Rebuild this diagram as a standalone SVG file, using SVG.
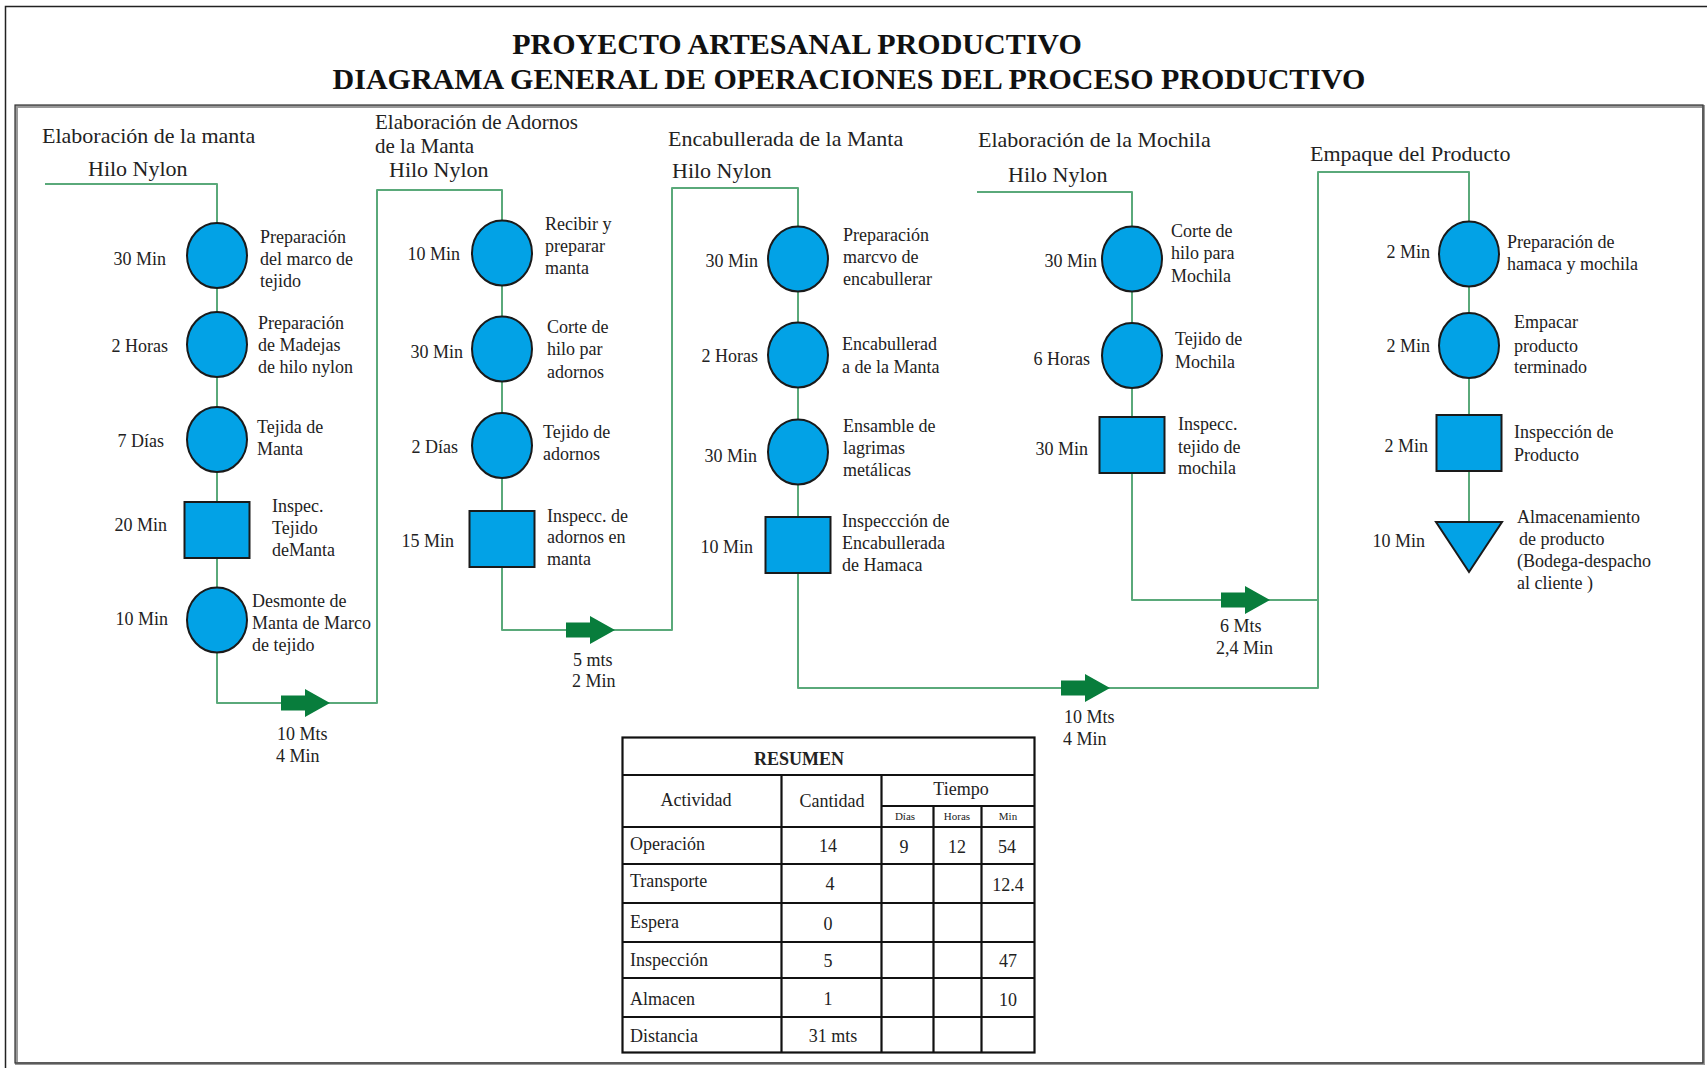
<svg xmlns="http://www.w3.org/2000/svg" xmlns:xlink="http://www.w3.org/1999/xlink" width="1707" height="1068" viewBox="0 0 1707 1068">
<style>
  text { font-family: "Liberation Serif", "Times New Roman", serif; fill: #222; }
  .title { font-size: 30px; font-weight: bold; fill: #111; text-anchor: middle; }
  .hdr { font-size: 22px; }
  .hdr2 { font-size: 21px; }
  .t { font-size: 18px; }
  .tm { font-size: 18px; text-anchor: end; }
  .op { fill: #02a2e6; stroke: #1a1a1a; stroke-width: 2; }
  .flow { fill: none; stroke: #5aa97a; stroke-width: 2; stroke-linejoin: round; }
  .tarrow { fill: #087d3c; }
  .tb { fill: none; stroke: #111; stroke-width: 2.2; }
  .c { text-anchor: middle; }
  .sm { font-size: 11px; text-anchor: middle; }
</style>
<defs>
  <polygon id="tarrow" points="-49,-7.5 -25,-7.5 -25,-14 0,0 -25,14 -25,7.5 -49,7.5"/>
</defs>
<rect width="1707" height="1068" fill="#fff"/>
<!-- frames -->
<rect x="5.5" y="6.5" width="1710" height="1075" fill="none" stroke="#222" stroke-width="1.5"/>
<rect x="16.5" y="106.5" width="1687" height="957" fill="none" stroke="#999" stroke-width="3"/>
<rect x="15" y="105" width="1688" height="958" fill="none" stroke="#333" stroke-width="1.2"/>

<g id="title">
  <text class="title" x="797" y="54">PROYECTO ARTESANAL PRODUCTIVO</text>
  <text class="title" x="849" y="89">DIAGRAMA GENERAL DE OPERACIONES DEL PROCESO PRODUCTIVO</text>
</g>

<g id="section-headers">
  <text class="hdr" x="42" y="143">Elaboración de la manta</text>
  <text class="hdr" x="88" y="176">Hilo Nylon</text>
  <text class="hdr2" x="375" y="129">Elaboración de Adornos</text>
  <text class="hdr2" x="375" y="153">de la Manta</text>
  <text class="hdr" x="389" y="177">Hilo Nylon</text>
  <text class="hdr" x="668" y="146">Encabullerada de la Manta</text>
  <text class="hdr" x="672" y="178">Hilo Nylon</text>
  <text class="hdr" x="978" y="147">Elaboración de la Mochila</text>
  <text class="hdr" x="1008" y="182">Hilo Nylon</text>
  <text class="hdr" x="1310" y="161">Empaque del Producto</text>
</g>

<g id="connectors">
  <path class="flow" d="M45,184 H217 V703 H377 V190 H502 V630 H672 V188 H798 V688 H1318 V172 H1469 V547"/>
  <path class="flow" d="M977,192 H1132 V600 H1318"/>
</g>

<g id="transports">
  <g id="t1"><use xlink:href="#tarrow" href="#tarrow" class="tarrow" x="330" y="703"/>
    <text class="t" x="277" y="740">10 Mts</text><text class="t" x="276" y="762">4 Min</text></g>
  <g id="t2"><use xlink:href="#tarrow" href="#tarrow" class="tarrow" x="615" y="630"/>
    <text class="t" x="573" y="666">5 mts</text><text class="t" x="572" y="687">2 Min</text></g>
  <g id="t3"><use xlink:href="#tarrow" href="#tarrow" class="tarrow" x="1270" y="600"/>
    <text class="t" x="1220" y="632">6 Mts</text><text class="t" x="1216" y="654">2,4 Min</text></g>
  <g id="t4"><use xlink:href="#tarrow" href="#tarrow" class="tarrow" x="1110" y="688"/>
    <text class="t" x="1064" y="723">10 Mts</text><text class="t" x="1063" y="745">4 Min</text></g>
</g>

<!-- Column 1 -->
<g id="n1-1"><ellipse class="op" cx="217" cy="255.5" rx="30" ry="32.5"/>
  <text class="tm" x="166" y="265">30 Min</text>
  <text class="t" x="260" y="243">Preparación</text><text class="t" x="260" y="265">del marco de</text><text class="t" x="260" y="287">tejido</text></g>
<g id="n1-2"><ellipse class="op" cx="217" cy="344.5" rx="30" ry="32.5"/>
  <text class="tm" x="168" y="352">2 Horas</text>
  <text class="t" x="258" y="329">Preparación</text><text class="t" x="258" y="351">de Madejas</text><text class="t" x="258" y="373">de hilo nylon</text></g>
<g id="n1-3"><ellipse class="op" cx="217" cy="439.5" rx="30" ry="32.5"/>
  <text class="tm" x="164" y="447">7 Días</text>
  <text class="t" x="257" y="433">Tejida de</text><text class="t" x="257" y="455">Manta</text></g>
<g id="n1-4"><rect class="op" x="184.5" y="502" width="65" height="56"/>
  <text class="tm" x="167" y="531">20 Min</text>
  <text class="t" x="272" y="512">Inspec.</text><text class="t" x="272" y="534">Tejido</text><text class="t" x="272" y="556">deManta</text></g>
<g id="n1-5"><ellipse class="op" cx="217" cy="620" rx="30" ry="32.5"/>
  <text class="tm" x="168" y="625">10 Min</text>
  <text class="t" x="252" y="607">Desmonte de</text><text class="t" x="252" y="629">Manta de Marco</text><text class="t" x="252" y="651">de tejido</text></g>

<!-- Column 2 -->
<g id="n2-1"><ellipse class="op" cx="502" cy="253" rx="30" ry="32.5"/>
  <text class="tm" x="460" y="260">10 Min</text>
  <text class="t" x="545" y="230">Recibir y</text><text class="t" x="545" y="252">preparar</text><text class="t" x="545" y="274">manta</text></g>
<g id="n2-2"><ellipse class="op" cx="502" cy="349" rx="30" ry="32.5"/>
  <text class="tm" x="463" y="358">30 Min</text>
  <text class="t" x="547" y="333">Corte de</text><text class="t" x="547" y="355">hilo par</text><text class="t" x="547" y="378">adornos</text></g>
<g id="n2-3"><ellipse class="op" cx="502" cy="445.5" rx="30" ry="32.5"/>
  <text class="tm" x="458" y="453">2 Días</text>
  <text class="t" x="543" y="438">Tejido de</text><text class="t" x="543" y="460">adornos</text></g>
<g id="n2-4"><rect class="op" x="469.5" y="511" width="65" height="56"/>
  <text class="tm" x="454" y="547">15 Min</text>
  <text class="t" x="547" y="522">Inspecc. de</text><text class="t" x="547" y="543">adornos en</text><text class="t" x="547" y="565">manta</text></g>

<!-- Column 3 -->
<g id="n3-1"><ellipse class="op" cx="798" cy="259" rx="30" ry="32.5"/>
  <text class="tm" x="758" y="267">30 Min</text>
  <text class="t" x="843" y="241">Preparación</text><text class="t" x="843" y="263">marcvo de</text><text class="t" x="843" y="285">encabullerar</text></g>
<g id="n3-2"><ellipse class="op" cx="798" cy="355" rx="30" ry="32.5"/>
  <text class="tm" x="758" y="362">2 Horas</text>
  <text class="t" x="842" y="350">Encabullerad</text><text class="t" x="842" y="373">a de la Manta</text></g>
<g id="n3-3"><ellipse class="op" cx="798" cy="452" rx="30" ry="32.5"/>
  <text class="tm" x="757" y="462">30 Min</text>
  <text class="t" x="843" y="432">Ensamble de</text><text class="t" x="843" y="454">lagrimas</text><text class="t" x="843" y="476">metálicas</text></g>
<g id="n3-4"><rect class="op" x="765.5" y="517" width="65" height="56"/>
  <text class="tm" x="753" y="553">10 Min</text>
  <text class="t" x="842" y="527">Inspeccción de</text><text class="t" x="842" y="549">Encabullerada</text><text class="t" x="842" y="571">de Hamaca</text></g>

<!-- Column 4 -->
<g id="n4-1"><ellipse class="op" cx="1132" cy="259" rx="30" ry="32.5"/>
  <text class="tm" x="1097" y="267">30 Min</text>
  <text class="t" x="1171" y="237">Corte de</text><text class="t" x="1171" y="259">hilo para</text><text class="t" x="1171" y="282">Mochila</text></g>
<g id="n4-2"><ellipse class="op" cx="1132" cy="355.5" rx="30" ry="32.5"/>
  <text class="tm" x="1090" y="365">6 Horas</text>
  <text class="t" x="1175" y="345">Tejido de</text><text class="t" x="1175" y="368">Mochila</text></g>
<g id="n4-3"><rect class="op" x="1099.5" y="417" width="65" height="56"/>
  <text class="tm" x="1088" y="455">30 Min</text>
  <text class="t" x="1178" y="430">Inspecc.</text><text class="t" x="1178" y="453">tejido de</text><text class="t" x="1178" y="474">mochila</text></g>

<!-- Column 5 -->
<g id="n5-1"><ellipse class="op" cx="1469" cy="254" rx="30" ry="32.5"/>
  <text class="tm" x="1430" y="258">2 Min</text>
  <text class="t" x="1507" y="248">Preparación de</text><text class="t" x="1507" y="270">hamaca y mochila</text></g>
<g id="n5-2"><ellipse class="op" cx="1469" cy="345.5" rx="30" ry="32.5"/>
  <text class="tm" x="1430" y="352">2 Min</text>
  <text class="t" x="1514" y="328">Empacar</text><text class="t" x="1514" y="352">producto</text><text class="t" x="1514" y="373">terminado</text></g>
<g id="n5-3"><rect class="op" x="1436.5" y="415" width="65" height="56"/>
  <text class="tm" x="1428" y="452">2 Min</text>
  <text class="t" x="1514" y="438">Inspección de</text><text class="t" x="1514" y="461">Producto</text></g>
<g id="n5-4"><polygon class="op" points="1436,522 1502,522 1469,572"/>
  <text class="tm" x="1425" y="547">10 Min</text>
  <text class="t" x="1517" y="523">Almacenamiento</text><text class="t" x="1519" y="545">de producto</text><text class="t" x="1517" y="567">(Bodega-despacho</text><text class="t" x="1517" y="589">al cliente )</text></g>

<!-- Summary table -->
<g id="resumen">
  <rect class="tb" x="622.5" y="737.5" width="412" height="315" fill="#fff"/>
  <path class="tb" d="M622.5,775 H1034.5 M622.5,827 H1034.5 M881.5,806 H1034.5 M622.5,864 H1034.5 M622.5,903 H1034.5 M622.5,942 H1034.5 M622.5,978 H1034.5 M622.5,1017 H1034.5 M781.5,775 V1052.5 M881.5,775 V1052.5 M933.5,806 V1052.5 M981.5,806 V1052.5"/>
  <text class="t c" x="799" y="765" font-weight="bold">RESUMEN</text>
  <text class="t c" x="696" y="806">Actividad</text>
  <text class="t c" x="832" y="807">Cantidad</text>
  <text class="t c" x="961" y="795">Tiempo</text>
  <text class="sm" x="905" y="820">Días</text>
  <text class="sm" x="957" y="820">Horas</text>
  <text class="sm" x="1008" y="820">Min</text>
  <text class="t" x="630" y="850">Operación</text>
  <text class="t c" x="828" y="852">14</text>
  <text class="t c" x="904" y="853">9</text>
  <text class="t c" x="957" y="853">12</text>
  <text class="t c" x="1007" y="853">54</text>
  <text class="t" x="630" y="887">Transporte</text>
  <text class="t c" x="830" y="890">4</text>
  <text class="t c" x="1008" y="891">12.4</text>
  <text class="t" x="630" y="928">Espera</text>
  <text class="t c" x="828" y="930">0</text>
  <text class="t" x="630" y="966">Inspección</text>
  <text class="t c" x="828" y="967">5</text>
  <text class="t c" x="1008" y="967">47</text>
  <text class="t" x="630" y="1005">Almacen</text>
  <text class="t c" x="828" y="1005">1</text>
  <text class="t c" x="1008" y="1006">10</text>
  <text class="t" x="630" y="1042">Distancia</text>
  <text class="t c" x="833" y="1042">31 mts</text>
</g>
</svg>
